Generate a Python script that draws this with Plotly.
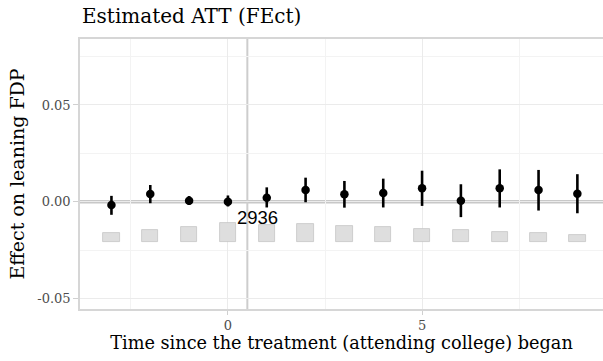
import plotly.graph_objects as go

# Data
periods = [-3, -2, -1, 0, 1, 2, 3, 4, 5, 6, 7, 8, 9]
att = [-0.0017, 0.0040, 0.0005, 0.0000, 0.0020, 0.0060, 0.0038, 0.0045, 0.0069, 0.0005, 0.0069, 0.0060, 0.0041]
ci_upper = [0.0030, 0.0086, 0.0029, 0.0032, 0.0074, 0.0124, 0.0107, 0.0119, 0.0160, 0.0090, 0.0167, 0.0164, 0.0142]
ci_lower = [-0.0068, -0.0008, -0.0017, -0.0025, -0.0030, -0.0003, -0.0031, -0.0030, -0.0022, -0.0080, -0.0030, -0.0046, -0.0060]
counts = [1391, 1808, 2318, 2936, 2581, 2689, 2472, 2225, 1916, 1808, 1545, 1298, 989]

x_ticks = [0, 5]
y_ticks = [-0.05, 0.0, 0.05]
y_tick_text = ["-0.05", "0.00", "0.05"]

title_text = "Estimated ATT (FEct)"
x_title = "Time since the treatment (attending college) began"
y_title = "Effect on leaning FDP"

# Count bar geometry (layout, not data)
bar_base = -0.0207
bar_max_height = 0.0098
bar_width = 0.42

max_count = max(counts)
bar_heights = [c / max_count * bar_max_height for c in counts]
max_pos = periods[counts.index(max_count)]

serif = "DejaVu Serif"

fig = go.Figure()

fig.add_trace(go.Bar(
    x=periods, y=bar_heights, base=[bar_base] * len(periods), width=bar_width,
    marker=dict(color="#dedede", line=dict(color="#c4c4c4", width=0.8)),
    hoverinfo="skip", showlegend=False,
))

fig.add_trace(go.Scatter(
    x=periods, y=att, mode="markers",
    marker=dict(color="black", size=8.5),
    error_y=dict(
        type="data", symmetric=False,
        array=[u - a for u, a in zip(ci_upper, att)],
        arrayminus=[a - l for a, l in zip(att, ci_lower)],
        color="black", thickness=2.6, width=0,
    ),
    showlegend=False,
))

# Reference lines
fig.add_hline(y=0, line=dict(color="#c8c8c8", width=3.5), layer="below")
fig.add_vline(x=0.5, line=dict(color="#cdcdcd", width=2), layer="below")

# Max count label
fig.add_annotation(
    x=max_pos + 0.77, y=bar_base + bar_max_height + 0.0026,
    text=str(max_count), showarrow=False,
    font=dict(family="Liberation Sans", size=18.5, color="black"),
    xanchor="center", yanchor="middle",
)

fig.update_layout(
    width=603, height=361,
    margin=dict(l=80, r=0, t=39, b=52),
    plot_bgcolor="white", paper_bgcolor="white",
    bargap=0,
    title=dict(
        text=title_text, x=82 / 603, xanchor="left", xref="container",
        y=1 - 16 / 361, yanchor="middle", yref="container",
        font=dict(family=serif, size=20, color="black"),
    ),
    xaxis=dict(
        range=[-3.81, 9.66], tickvals=x_ticks, ticktext=[str(v) for v in x_ticks],
        showgrid=True, gridcolor="#ebebeb", gridwidth=1,
        minor=dict(tickvals=[-2.5, 2.5, 7.5], showgrid=True, gridcolor="#f3f3f3", gridwidth=1, ticks=""),
        zeroline=False,
        showline=True, linecolor="#d6d6d6", linewidth=1.5, mirror=True,
        ticks="outside", ticklen=4, tickcolor="#d0d0d0", tickwidth=1,
        tickfont=dict(family=serif, size=13, color="#4d4d4d"),
        title=dict(text=x_title, font=dict(family=serif, size=17.7, color="black"), standoff=4),
    ),
    yaxis=dict(
        range=[-0.0555, 0.0841], tickvals=y_ticks, ticktext=y_tick_text,
        showgrid=True, gridcolor="#ebebeb", gridwidth=1,
        minor=dict(tickvals=[-0.025, 0.025, 0.075], showgrid=True, gridcolor="#f3f3f3", gridwidth=1, ticks=""),
        zeroline=False,
        showline=True, linecolor="#d6d6d6", linewidth=1.5, mirror=False,
        ticks="outside", ticklen=5, tickcolor="#d0d0d0", tickwidth=1,
        tickfont=dict(family=serif, size=13, color="#4d4d4d"),
        title=dict(text=y_title, font=dict(family=serif, size=19, color="black"), standoff=8),
    ),
)

fig.write_html("out.html")
